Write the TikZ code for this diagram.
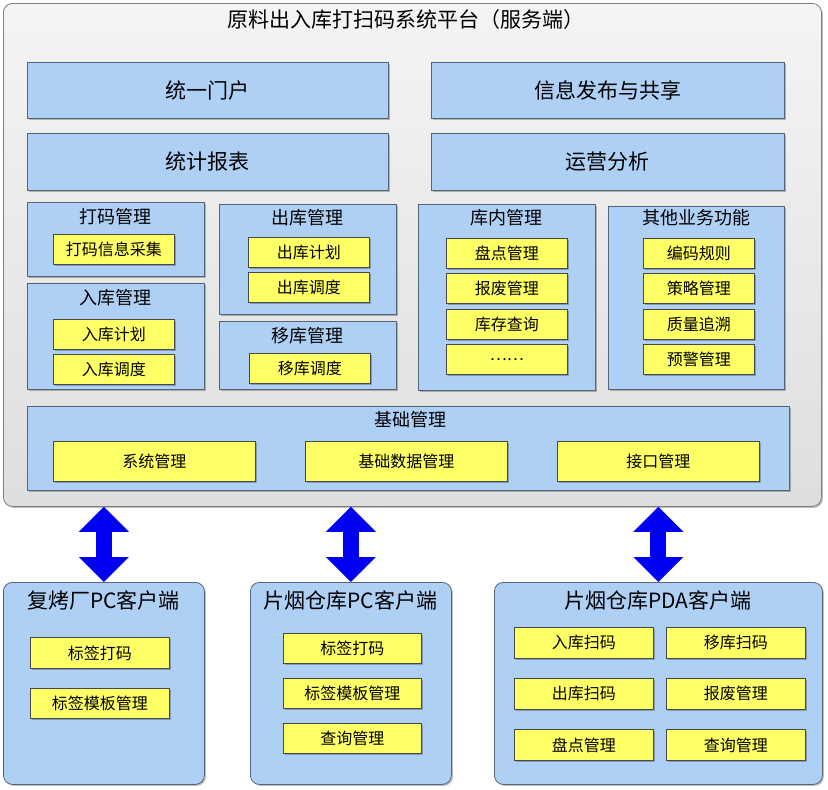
\documentclass[tikz,border=0pt]{standalone}
\usepackage{fontspec}
\setmainfont{Noto Sans CJK SC}
\usetikzlibrary{arrows.meta, positioning, shadows}
\definecolor{panelt}{HTML}{F4F4F4}
\definecolor{panelb}{HTML}{DEDEDE}
\definecolor{paneld}{HTML}{7F7F7F}
\definecolor{bluef}{HTML}{AFD0F5}
\definecolor{blued}{HTML}{56647A}
\definecolor{yelf}{HTML}{FFFF66}
\definecolor{yeld}{HTML}{484848}
\definecolor{arrb}{HTML}{0000F2}
\tikzset{
  shd/.style={drop shadow={shadow xshift=1.5pt, shadow yshift=-1.5pt, opacity=0.25, fill=black}},
  server/.style={draw=paneld, top color=panelt, bottom color=panelb, rounded corners=9pt,
                 line width=0.8pt, anchor=north west, inner sep=0pt, shd},
  blk/.style={draw=blued, fill=bluef, line width=0.8pt, anchor=north west, inner sep=0pt, shd},
  client/.style={blk, rounded corners=9pt},
  item/.style={draw=yeld, fill=yelf, line width=0.8pt, anchor=north west, inner sep=0pt,
               font=\fontsize{16pt}{19pt}\selectfont, shd},
  big/.style={font=\fontsize{21pt}{25pt}\selectfont},
  ttl/.style={font=\fontsize{18pt}{21pt}\selectfont, inner sep=0pt},
  ctl/.style={font=\fontsize{21pt}{25pt}\selectfont, inner sep=0pt},
  dblarr/.style={draw=arrb, line width=16pt,
                 {Triangle[length=25pt,width=50pt,line width=0pt]}-{Triangle[length=25pt,width=50pt,line width=0pt]}},
}

\begin{document}
\begin{tikzpicture}[x=1pt, y=-1pt]
  \useasboundingbox (0,0) rectangle (828,790);
  % ---------------- server ----------------
  \node[server, minimum width=818pt, minimum height=503pt] (srv) at (3,3) {};
  \node[ctl] (srvt) at (406,20) {原料出入库打扫码系统平台（服务端）};
  \node[blk, big, minimum width=361pt, minimum height=56pt] (portal) at (27,62) {统一门户};
  \node[blk, big, minimum width=353pt, minimum height=56pt] (info) at (431,62) {信息发布与共享};
  \node[blk, big, minimum width=361pt, minimum height=57pt] (report) at (27,133) {统计报表};
  \node[blk, big, minimum width=353pt, minimum height=57pt] (oper) at (431,133) {运营分析};

  % ---------------- modules ----------------
  \node[blk, minimum width=177pt, minimum height=74pt] (mcode) at (27,202) {};
  \node[ttl] (mcodet) at (115.5,217) {打码管理};
  \node[item, minimum width=121pt, minimum height=30pt] (mcode1) at (53,234) {打码信息采集};

  \node[blk, minimum width=177pt, minimum height=106pt] (min) at (27,283) {};
  \node[ttl] (mint) at (115.5,298) {入库管理};
  \node[item, minimum width=121pt, minimum height=30pt] (min1) at (53,319) {入库计划};
  \node[item, minimum width=121pt, minimum height=30pt] (min2) at (53,354) {入库调度};

  \node[blk, minimum width=177pt, minimum height=110pt] (mout) at (219,204) {};
  \node[ttl] (moutt) at (307.5,218) {出库管理};
  \node[item, minimum width=121pt, minimum height=30pt] (mout1) at (248,237) {出库计划};
  \node[item, minimum width=121pt, minimum height=30pt] (mout2) at (248,272) {出库调度};

  \node[blk, minimum width=177pt, minimum height=68pt] (mmove) at (219,321) {};
  \node[ttl] (mmovet) at (307.5,336) {移库管理};
  \node[item, minimum width=121pt, minimum height=30pt] (mmove1) at (249,353) {移库调度};

  \node[blk, minimum width=177pt, minimum height=186pt] (mstock) at (418,204) {};
  \node[ttl] (mstockt) at (506.5,218) {库内管理};
  \foreach \y/\t [count=\i] in {238/盘点管理, 273/报废管理, 309/库存查询, 344/……}
    \node[item, minimum width=121pt, minimum height=30pt] (mstock\i) at (446,\y) {\t};

  \node[blk, minimum width=176pt, minimum height=183pt] (mother) at (608,206) {};
  \node[ttl] (mothert) at (696,218) {其他业务功能};
  \foreach \y/\t [count=\i] in {238/编码规则, 273/策略管理, 309/质量追溯, 344/预警管理}
    \node[item, minimum width=111pt, minimum height=30pt] (mother\i) at (643,\y) {\t};

  % ---------------- base ----------------
  \node[blk, minimum width=762pt, minimum height=84pt] (base) at (27,406) {};
  \node[ttl] (baset) at (410,420) {基础管理};
  \foreach \x/\t [count=\i] in {53/系统管理, 305/基础数据管理, 557/接口管理}
    \node[item, minimum width=202pt, minimum height=40pt] (base\i) at (\x,441) {\t};

  % ---------------- clients ----------------
  \node[client, minimum width=201pt, minimum height=202pt] (c1) at (3,582) {};
  \node[ctl] (c1t) at (103.5,600) {复烤厂PC客户端};
  \node[item, minimum width=139pt, minimum height=31pt] (c1a) at (30,637) {标签打码};
  \node[item, minimum width=139pt, minimum height=30pt] (c1b) at (30,688) {标签模板管理};

  \node[client, minimum width=201pt, minimum height=202pt] (c2) at (250,582) {};
  \node[ctl] (c2t) at (350.5,600) {片烟仓库PC客户端};
  \foreach \y/\t [count=\i] in {633/标签打码, 678/标签模板管理, 723/查询管理}
    \node[item, minimum width=138pt, minimum height=30pt] (c2\i) at (283,\y) {\t};

  \node[client, minimum width=328pt, minimum height=202pt] (c3) at (494,582) {};
  \node[ctl] (c3t) at (658,600) {片烟仓库PDA客户端};
  \foreach \y/\a/\b [count=\i] in {627/入库扫码/移库扫码, 678/出库扫码/报废管理, 729/盘点管理/查询管理}
  {
    \node[item, minimum width=139pt, minimum height=31pt] (c3l\i) at (514,\y) {\a};
    \node[item, minimum width=139pt, minimum height=31pt] (c3r\i) at (666,\y) {\b};
  }

  % ---------------- links ----------------
  \foreach \c in {c1, c2, c3}
    \draw[dblarr] (srv.south -| \c.north) -- (\c.north);
\end{tikzpicture}
\end{document}
